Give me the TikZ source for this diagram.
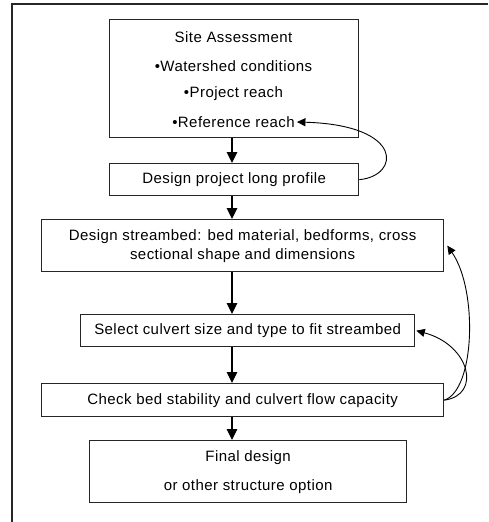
\documentclass[tikz,border=0pt]{standalone}
\usepackage{fontspec}
\setmainfont{Liberation Sans}[LetterSpace=3]
\usetikzlibrary{arrows.meta}
\begin{document}
\begin{tikzpicture}[x=1pt,y=-1pt,
  box/.style={draw=black!85,line width=1.3pt,inner sep=0pt,anchor=north west,
    font=\fontsize{15}{17}\selectfont,align=center},
  txt/.style={font=\fontsize{15}{17}\selectfont,inner sep=0pt},
  flow/.style={line width=1.2pt,-{Triangle[length=11pt,width=10.5pt]}},
  loop/.style={line width=0.9pt,-{Triangle[length=8.5pt,width=8pt]}}]
\useasboundingbox (0,0) rectangle (488,522);
% outer frame (only top and left edges visible)
\draw[line width=1.6pt,black!85] (488,4) -| (12,522);
% boxes
\node[box,minimum width=249pt,minimum height=118pt] (b1) at (109,19) {};
\node[txt] (t1) at (233.5,37) {Site Assessment};
\node[txt] (t2) at (233.5,66) {•Watershed conditions};
\node[txt] (t3) at (233.5,94) {•Project reach};
\node[txt] (t4) at (233.5,122) {•Reference reach};
\node[box,minimum width=249pt,minimum height=32pt] (b2) at (109,163) {Design project long profile};
\node[box,minimum width=402pt,minimum height=52pt,font=\fontsize{15}{19}\selectfont] (b3) at (41,219)
  {Design streambed: bed material, bedforms, cross\\ sectional shape and dimensions};
\node[box,minimum width=334pt,minimum height=32pt] (b4) at (80,314) {Select culvert size and type to fit streambed};
\node[box,minimum width=402pt,minimum height=33pt] (b5) at (41,383) {Check bed stability and culvert flow capacity};
\node[box,minimum width=317pt,minimum height=62pt,font=\fontsize{15}{29}\selectfont] (b6) at (89,440)
  {Final design\\ or other structure option};
% main flow
\coordinate (ax) at (232,0);
\draw[flow] (ax |- b1.south) -- (ax |- b2.north);
\draw[flow] (ax |- b2.south) -- (ax |- b3.north);
\draw[flow] (ax |- b3.south) -- (ax |- b4.north);
\draw[flow] (ax |- b4.south) -- (ax |- b5.north);
\draw[flow] (ax |- b5.south) -- (ax |- b6.north);
% feedback loops
\draw[loop] (b2.east) .. controls (400,176) and (405,125) .. ([xshift=2pt]t4.east);
\draw[loop] (b5.east) .. controls (475,390) and (478,290) .. ([xshift=3pt]b3.east);
\draw[loop] (b5.east) .. controls (482,395) and (470,345) .. ([xshift=1pt]b4.east);
\end{tikzpicture}
\end{document}
